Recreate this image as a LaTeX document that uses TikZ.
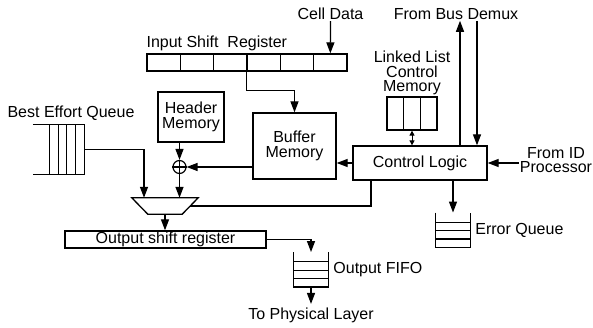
\documentclass[tikz,border=0pt]{standalone}
\usepackage{fontspec}
\setmainfont{Liberation Sans}
\usepackage{tikz}
\usetikzlibrary{arrows.meta,positioning,calc}

\begin{document}
\begin{tikzpicture}[x=1pt,y=-1pt,
  font=\fontsize{16}{14.5}\selectfont,
  box/.style={draw,line width=1.3pt,inner sep=0pt,align=center},
  cell/.style={draw,line width=1.3pt,inner sep=0pt,
               minimum width=33.33pt,minimum height=17pt},
  stack/.style={inner sep=0pt,minimum width=34pt,minimum height=34.5pt},
  lbl/.style={inner sep=1pt,align=center},
  link/.style={line width=1.3pt},
  arr/.style={link,-{Triangle[length=11pt,width=8pt]}},
  dbl/.style={line width=1pt,{Triangle[length=5pt,width=5pt]}-{Triangle[length=5pt,width=5pt]}}
]
  \useasboundingbox (0,0) rectangle (593,328);

  % input shift register
  \foreach \i in {1,...,6}
    \node[cell] (isr\i) at ({147+33.33*(\i-0.5)},62.5) {};
  \node[lbl,inner sep=0pt,above right=2pt and 0pt of isr1.north west] (isrlbl)
    {Input Shift~ Register};
  \node[lbl] (celldata) at (330.5,14) {Cell Data};
  \node[lbl] (bus) at (456,14) {From Bus Demux};

  % linked list memory
  \foreach \i in {1,2,3}
    \node[cell,minimum width=16.67pt,minimum height=33pt] (llm\i)
      at ({387+16.67*(\i-0.5)},113.5) {};
  \node[lbl,above=0pt of llm2] (llmlbl) {Linked List\\Control\\Memory};

  % blocks
  \node[box,minimum width=134pt,minimum height=34pt] (ctl) at (420,163) {Control Logic};
  \node[box,minimum width=83pt,minimum height=66pt] (buf) at (294.5,146) {Buffer\\Memory};
  \node[box,minimum width=66pt,minimum height=50pt] (hdr) at (191,117) {Header\\Memory};
  \node[draw,circle,line width=1.2pt,minimum size=13pt,inner sep=0pt] (xor) at (179.5,167) {};
  \node[inner sep=0pt,minimum width=66pt,minimum height=16pt] (mux) at (165,206) {};
  \draw[link] (mux.north west) -- (mux.north east) -- ([xshift=-16pt]mux.south east)
    -- ([xshift=16pt]mux.south west) -- cycle;
  \node[box,minimum width=201pt,minimum height=17pt] (osr) at (165.5,239.5) {Output shift register};
  \node[lbl] (idp) at (556,160) {From ID\\Processor};

  % queues
  \node[inner sep=0pt,minimum width=51pt,minimum height=49pt] (beq) at (58.5,149.5) {};
  \draw[link] (beq.north west) -- (beq.north east) -- (beq.south east) -- (beq.south west);
  \foreach \f in {17,25.5,34,42.5}
    \draw[link] ([xshift=\f pt]beq.north west) -- ([xshift=\f pt]beq.south west);
  \node[lbl] (beqlbl) at (71,113) {Best Effort Queue};

  \node[stack] (fifo) at (311,269.5) {};
  \node[stack] (errq) at (453,230) {};
  \foreach \q in {fifo,errq} {
    \draw[link] (\q.north west) -- (\q.south west) -- (\q.south east) -- (\q.north east);
    \foreach \f in {0.28,0.52,0.76}
      \draw[link] ($(\q.north west)!\f!(\q.south west)$) -- ($(\q.north east)!\f!(\q.south east)$);
  }
  \node[lbl,right=4pt of fifo] (fifolbl) {Output FIFO};
  \node[lbl,right=4pt of errq] (errqlbl) {Error Queue};
  \node[lbl,inner sep=4pt,below=17pt of fifo.south] (phy) {To Physical Layer};

  % connections
  \draw[arr] (celldata) -- (isr6);
  \draw[arr] (isr4.south west) -- ++(0,19) -| (buf.north);
  \draw[arr] (ctl.west) -- (ctl.west -| buf.east);
  \draw[arr] (xor -| buf.west) -- (xor.east);
  \draw[arr] (hdr.south -| xor.north) -- (xor.north);
  \draw[link] (xor.north) -- (xor.south);
  \draw[link] (xor.west) -- (xor.east);
  \draw[arr] (xor.south) -- (xor.south |- mux.north);
  \draw[arr] (beq.east) -| ([xshift=-21pt]mux.north);
  \draw[link] ([xshift=-49pt]ctl.south) |- ([xshift=-8pt]mux.east);
  \draw[arr] (mux.south) -- (mux.south |- osr.north);
  \draw[arr] (osr.east) -| (fifo.north);
  \draw[arr] (fifo.south) -- (phy.north);
  \draw[arr] (errq.north |- ctl.south) -- (errq.north);
  \draw[arr] ([xshift=40pt]ctl.north) -- ([xshift=40pt]ctl.north |- bus.south);
  \draw[arr] ([xshift=57pt]ctl.north |- bus.south) -- ([xshift=57pt]ctl.north);
  \draw[dbl] (llm2.south) -- (llm2.south |- ctl.north);
  \draw[arr] (ctl.east -| idp.west) -- (ctl.east);
\end{tikzpicture}
\end{document}
